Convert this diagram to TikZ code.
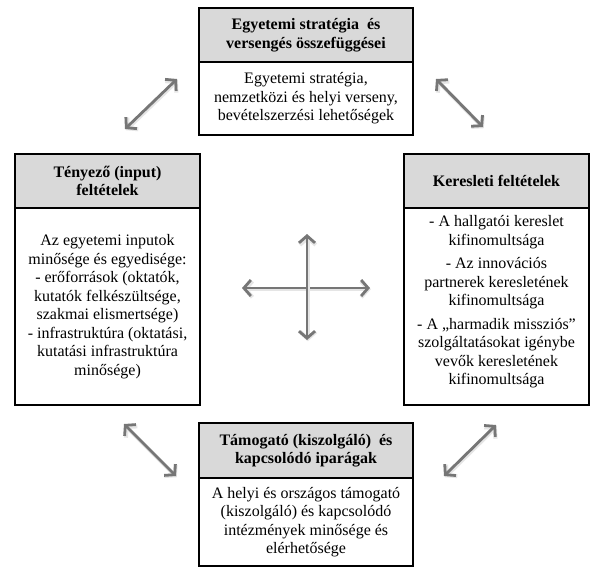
\documentclass[tikz,border=0pt]{standalone}
\usepackage{fontspec}
\setmainfont{Liberation Serif}
\usetikzlibrary{arrows.meta}
\definecolor{hdrgray}{RGB}{217,217,217}
\definecolor{arrgray}{RGB}{118,118,118}
\begin{document}
\begin{tikzpicture}[x=1pt,y=-1pt,
  boxbase/.style={draw=black, line width=1.1pt, align=center, inner sep=0pt},
  hdr/.style={boxbase, fill=hdrgray, font=\fontsize{16}{18.5}\selectfont\bfseries},
  bdy/.style={boxbase, fill=white, font=\fontsize{16}{18.5}\selectfont},
  dbl/.style={draw=arrgray, line width=2.8pt,
    {Straight Barb[length=7pt,width=16pt]}-{Straight Barb[length=7pt,width=16pt]},
    preaction={draw=black!10, line width=4pt, transform canvas={shift={(0.8pt,-1.2pt)}}}}
]
\useasboundingbox (0,0) rectangle (605,571);
\fill[white] (0,0) rectangle (605,571);

% top box
\node[hdr, minimum width=214, minimum height=54] (th) at (306,35)
  {Egyetemi stratégia\ \ és\\versengés összefüggései};
\node[bdy, minimum width=214, minimum height=73] (tb) at (306,98.5)
  {Egyetemi stratégia,\\nemzetközi és helyi verseny,\\bevételszerzési lehetőségek};

% left box
\node[hdr, minimum width=185, minimum height=54] (lh) at (107.5,181)
  {Tényező (input)\\feltételek};
\node[bdy, minimum width=185, minimum height=197] (lb) at (107.5,306.5)
  {Az egyetemi inputok\\minősége és egyedisége:\\- erőforrások (oktatók,\\kutatók felkészültsége,\\szakmai elismertsége)\\- infrastruktúra (oktatási,\\kutatási infrastruktúra\\minősége)};

% right box
\node[hdr, minimum width=185, minimum height=54] (rh) at (496.5,181)
  {Keresleti feltételek};
\node[bdy, minimum width=185, minimum height=197] (rb) at (496.5,306.5) {};
\node[align=center, inner sep=0pt, font=\fontsize{16}{18.5}\selectfont] (rt) at (496.5,302)
  {- A hallgatói kereslet\\kifinomultsága\\[5pt]- Az innovációs\\partnerek keresletének\\kifinomultsága\\[5pt]- A „harmadik missziós”\\szolgáltatásokat igénybe\\vevők keresletének\\kifinomultsága};

% bottom box
\node[hdr, minimum width=214, minimum height=55] (bh) at (306,450.5)
  {Támogató (kiszolgáló)\ \ és\\kapcsolódó iparágak};
\node[bdy, minimum width=214, minimum height=88] (bb) at (306,522)
  {A helyi és országos támogató\\(kiszolgáló) és kapcsolódó\\intézmények minősége és\\elérhetősége};

% arrow end points
\coordinate (a1s) at (125,129);
\coordinate (a1e) at (177,79);
\coordinate (a2s) at (436,79);
\coordinate (a2e) at (483,127);
\coordinate (a3s) at (124,424);
\coordinate (a3e) at (176,476);
\coordinate (a4s) at (496,425);
\coordinate (a4e) at (444,476);
\coordinate (cl) at (242,288);
\coordinate (cr) at (370,288);
\coordinate (ct) at (307,234);
\coordinate (cb) at (307,340);

\draw[dbl] (a1s) -- (a1e);
\draw[dbl] (a2s) -- (a2e);
\draw[dbl] (a3s) -- (a3e);
\draw[dbl] (a4s) -- (a4e);
\draw[dbl] (cl) -- (cr);
\draw[dbl] (ct) -- (cb);
\end{tikzpicture}
\end{document}
